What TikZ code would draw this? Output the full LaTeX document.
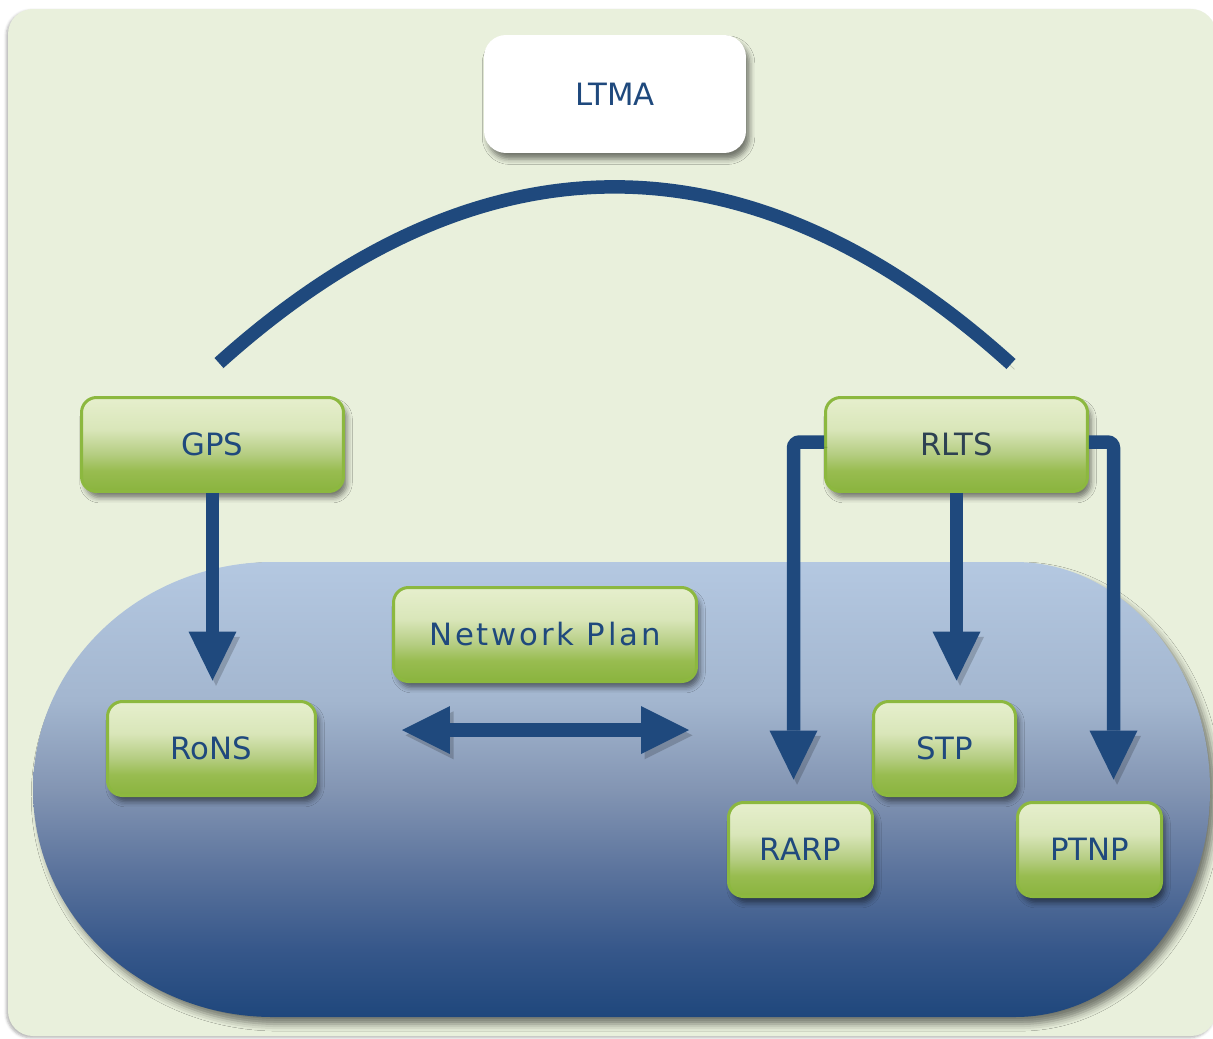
\documentclass[tikz,border=0pt]{standalone}
\usepackage{fontspec}
\newfontfamily\labelfont{DejaVu Sans}
\usetikzlibrary{arrows.meta,shadows.blur,calc}

% palette
\definecolor{paper}{HTML}{E9F0DC}
\definecolor{navy}{HTML}{1F497D}
\definecolor{slate}{HTML}{2D4152}
\definecolor{leaf}{HTML}{8CB83F}
\definecolor{leafA}{HTML}{8AB43E}
\definecolor{leafB}{HTML}{98BC50}
\definecolor{leafC}{HTML}{B5CD82}
\definecolor{leafD}{HTML}{D9E6B9}
\definecolor{leafE}{HTML}{E6EFCD}
\definecolor{poolA}{HTML}{1F477C}
\definecolor{poolB}{HTML}{36578A}
\definecolor{poolC}{HTML}{5C749D}
\definecolor{poolD}{HTML}{8395B3}
\definecolor{poolE}{HTML}{A3B6CF}
\definecolor{poolF}{HTML}{B4C8E1}

% green box fill, light at the top and grass green at the bottom
\pgfdeclareverticalshading{leafshade}{100bp}{
  color(0bp)=(leafA); color(25bp)=(leafA); color(36bp)=(leafB);
  color(45bp)=(leafC); color(58bp)=(leafD); color(75bp)=(leafE);
  color(100bp)=(leafE)}

% blue pool fill, pale blue at the top and deep navy at the bottom
\pgfdeclareverticalshading{poolshade}{100bp}{
  color(0bp)=(poolA); color(25bp)=(poolA); color(32.4bp)=(poolB);
  color(41.2bp)=(poolC); color(50bp)=(poolD); color(59.8bp)=(poolE);
  color(75bp)=(poolF); color(100bp)=(poolF)}

\tikzset{
  softshadow/.style={blur shadow={shadow xshift=2pt, shadow yshift=-3.5pt,
      shadow blur radius=3pt, shadow opacity=50}},
  box/.style={rectangle, rounded corners=0.3cm, draw=leaf, line width=0.06cm,
      shade, shading=leafshade, text=navy, inner sep=0pt,
      minimum height=1.88cm, softshadow,
      font=\labelfont\fontsize{17.5}{21}\selectfont},
  whitebox/.style={rectangle, rounded corners=0.44cm, fill=white, text=navy,
      inner sep=0pt, softshadow,
      font=\labelfont\fontsize{17.5}{21}\selectfont},
  conn/.style={draw=navy, line width=0.27cm, line join=miter,
      preaction={draw=black, opacity=0.18,
        transform canvas={xshift=2pt, yshift=-3pt}}},
  arrowline/.style={conn, -{Triangle[length=0.98cm, width=0.96cm, line width=0pt]}},
}

\begin{document}
\begin{tikzpicture}[x=0.02cm, y=-0.02cm]
\useasboundingbox (0,0) rectangle (1213,1038);

% backdrop panel
\fill[paper, rounded corners=0.5cm,
  blur shadow={shadow xshift=-1pt, shadow yshift=-1pt,
    shadow blur radius=1.5pt, shadow opacity=30}]
  (8,9) rectangle (1216,1036);

% blue pool holding the lower boxes
\path[shade, shading=poolshade,
  blur shadow={shadow xshift=3pt, shadow yshift=-4pt,
    shadow blur radius=4pt, shadow opacity=50}]
  (273,562) -- (1015,562)
  arc[start angle=-90, end angle=0, x radius=195, y radius=227.5]
  arc[start angle=0, end angle=90, x radius=195, y radius=227.5]
  -- (273,1017)
  arc[start angle=90, end angle=180, x radius=240, y radius=227.5]
  arc[start angle=180, end angle=270, x radius=240, y radius=227.5]
  -- cycle;

% boxes
\node[whitebox, minimum width=5.24cm, minimum height=2.36cm] (LTMA) at (615,94) {LTMA};
\node[box, minimum width=5.24cm] (GPS)  at (212.5,444.5) {GPS};
\node[box, minimum width=5.24cm, text=slate] (RLTS) at (956.5,444.5) {RLTS};
\node[box, minimum width=6.06cm,
  font=\labelfont\fontsize{17.5}{21}\selectfont\addfontfeature{LetterSpace=9}]
  (NP) at (545,634.5) {Network Plan};
\node[box, minimum width=4.16cm] (RoNS) at (211.5,748.5) {RoNS};
\node[box, minimum width=2.84cm] (STP)  at (944.5,748.5) {STP};
\node[box, minimum width=2.88cm] (RARP) at (800.5,849.5) {RARP};
\node[box, minimum width=2.88cm] (PTNP) at (1089.5,849.5) {PTNP};

% arc spanning from GPS to RLTS
\coordinate (arcL) at (219,363);
\coordinate (arcR) at (1011,364);
\draw[conn] (arcL) .. controls (480,128) and (750,128) .. (arcR);

% connectors
\draw[arrowline, shorten >=0.39cm] (GPS.south) -- (GPS.south |- RoNS.north);
\draw[arrowline, shorten >=0.39cm] (RLTS.south) -- (RLTS.south |- STP.north);
\draw[arrowline, rounded corners=0.12cm, shorten >=0.43cm]
  ([yshift=0.05cm]RLTS.west) -| ([xshift=-0.14cm]RARP.north);
\draw[arrowline, rounded corners=0.12cm, shorten >=0.43cm]
  ([yshift=0.05cm]RLTS.east) -| ([xshift=0.48cm]PTNP.north);

% two-headed arrow under Network Plan
\coordinate (dL) at (402,730);
\coordinate (dR) at (689,730);
\draw[conn, {Triangle[length=0.96cm, width=0.96cm, line width=0pt]}-{Triangle[length=0.96cm, width=0.96cm, line width=0pt]}] (dL) -- (dR);
\end{tikzpicture}
\end{document}
